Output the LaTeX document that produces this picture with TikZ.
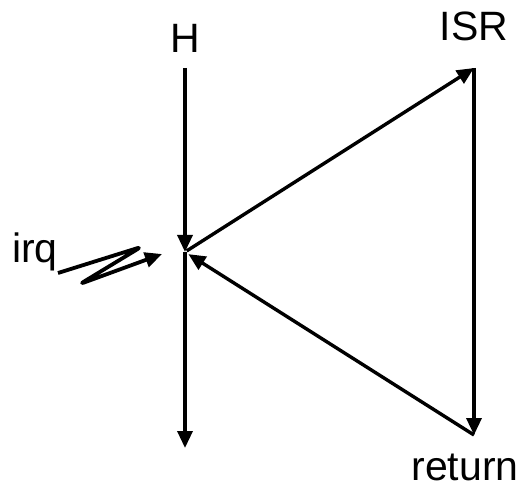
\documentclass[tikz,border=0pt]{standalone}
\usepackage{fontspec}
\setmainfont{Liberation Sans}
\usetikzlibrary{arrows.meta}
\tikzset{
  >={Triangle[length=17pt,width=15pt]},
  flow/.style={->,line width=3.4pt,draw=black},
  lab/.style={font=\fontsize{41}{46}\selectfont,inner sep=0pt}
}
\begin{document}
\begin{tikzpicture}[x=1pt,y=-1pt]
        \useasboundingbox (0,0) rectangle (530,489);
        \node[lab] (h) at (185,38) {H}; \node[lab] (isrl) at (474,26) {ISR};
        \node[lab,anchor=base] (retl) at (465,480) {return};
        \node[lab,anchor=base west] (irql) at (12,262) {irq};
        \coordinate (htop) at (185,68); \coordinate (junc) at (185,252);
        \coordinate (hbot) at (185,448); \coordinate (isr) at (474,68);
        \coordinate (ret) at (474,435); \coordinate (zz) at (162,254);
        \draw[flow] (htop)--(junc);
        \draw[flow] (junc)--(hbot);
        \draw[flow,shorten <=2pt] (junc)--(isr);
        \draw[flow] (isr)--(ret);
        \draw[flow,shorten >=4pt] (ret)--(junc);
        \draw[flow,line width=3.8pt,rounded corners=4pt,line join=round] (58,273)--(141,247)--(80,284)--(zz);
      \end{tikzpicture}
\end{document}
